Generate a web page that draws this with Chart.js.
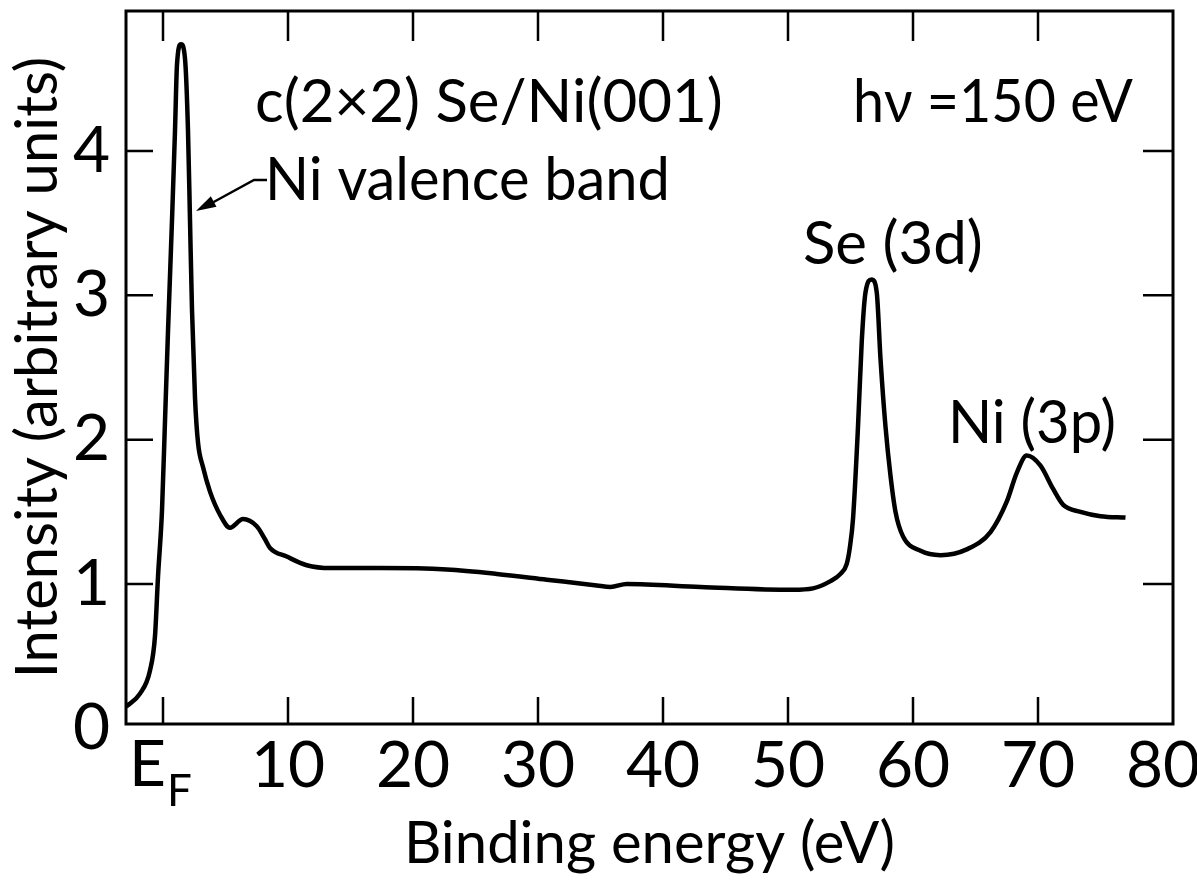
<!DOCTYPE html>
<html>
<head>
<meta charset="utf-8">
<script src="https://cdn.jsdelivr.net/npm/chart.js@4.4.1/dist/chart.umd.min.js"></script>
<style>
  html, body { margin: 0; padding: 0; background: #fff; }
  #wrap { width: 1197px; height: 882px; }
</style>
</head>
<body>
<div id="wrap"><canvas id="spectrum" width="1197" height="882"></canvas></div>
<script>
// binding energy (eV) and intensity (arb. units)
const energies = [-2.96, -1.84, -1.04, -0.64, -0.4, -0.08, 0.16, 0.4, 0.72, 0.96, 1.12, 1.44, 1.76, 2.0, 2.16, 2.32, 2.56, 2.8, 3.2, 3.76,
  4.56, 5.36, 6.4, 7.5, 8.16, 8.56, 9.9, 11.5, 13.4, 17.4, 22.7, 26.7, 30.7, 34.7, 35.8, 37.1, 43, 50.4, 52, 53.4,
  54.2, 54.7, 54.96, 55.2, 55.6, 55.9, 56.2, 56.7, 57.1, 57.4, 57.8, 58.2, 58.6, 59.2, 60.6, 62.2, 64.3, 66.2, 67.5, 68.3, 69.1,
  70.2, 71.2, 72.0, 73.4, 75.0, 77.0];
const intensities = [0.15, 0.24, 0.40, 0.64, 1.05, 1.51, 2.13, 2.75, 3.52, 4.14, 4.60, 4.74, 4.64, 4.14, 3.52, 2.90, 2.29, 1.98, 1.81, 1.64,
  1.48, 1.39, 1.45, 1.40, 1.31, 1.25, 1.19, 1.13, 1.11, 1.11, 1.10, 1.07, 1.03, 0.99, 0.98, 1.00, 0.98, 0.96, 0.97, 1.02,
  1.07, 1.14, 1.26, 1.45, 2.09, 2.68, 3.02, 3.11, 3.02, 2.56, 2.09, 1.75, 1.50, 1.33, 1.23, 1.20, 1.24, 1.36, 1.57, 1.77, 1.89,
  1.82, 1.66, 1.55, 1.50, 1.47, 1.46];

const xTicks = [0, 10, 20, 30, 40, 50, 60, 70, 80];
const yTicks = [0, 1, 2, 3, 4];
const xTitle = 'Binding energy (eV)';
const yTitle = 'Intensity (arbitrary units)';

const FONT = "Lato, 'DejaVu Sans', sans-serif";

// keep chart.js from reserving room for edge labels
const noPad = s => { s.paddingTop = 0; s.paddingBottom = 0; s.paddingLeft = 0; s.paddingRight = 0; };

// frame, inward ticks, E_F label and the annotations
const decor = {
  id: 'decor',
  afterDatasetsDraw(chart) {
    const { ctx, chartArea: a, scales: { x, y } } = chart;
    ctx.save();
    ctx.strokeStyle = '#000';
    ctx.fillStyle = '#000';
    ctx.lineWidth = 3;
    ctx.strokeRect(a.left, a.top, a.right - a.left, a.bottom - a.top);

    ctx.lineWidth = 2.5;
    ctx.beginPath();
    xTicks.forEach(v => {
      if (v >= 80) return;
      const px = x.getPixelForValue(v);
      ctx.moveTo(px, a.bottom); ctx.lineTo(px, a.bottom - 27);
      ctx.moveTo(px, a.top); ctx.lineTo(px, a.top + 30);
    });
    yTicks.forEach(v => {
      if (v === 0) return;
      const py = y.getPixelForValue(v);
      ctx.moveTo(a.left, py); ctx.lineTo(a.left + 27, py);
      ctx.moveTo(a.right, py); ctx.lineTo(a.right - 30, py);
    });
    ctx.stroke();

    // E_F under the zero tick
    const x0 = x.getPixelForValue(0);
    ctx.textBaseline = 'alphabetic';
    ctx.textAlign = 'left';
    ctx.font = `64px ${FONT}`;
    ctx.fillText('E', x0 - 34, 786);
    ctx.font = `44px ${FONT}`;
    ctx.fillText('F', x0 + 4, 806);

    // text notes
    ctx.font = `60px ${FONT}`;
    ctx.fillText('c(2×2) Se/Ni(001)', 255, 122, 490);
    ctx.fillText('hν =150 eV', 853, 122, 280);
    ctx.fillText('Ni valence band', 265, 200, 405);
    ctx.fillText('Se (3d)', 803, 264, 182);
    ctx.fillText('Ni (3p)', 948, 443, 168);

    // arrow to the valence band peak
    ctx.lineWidth = 2.5;
    ctx.beginPath();
    ctx.moveTo(267, 180);
    ctx.lineTo(254, 180);
    ctx.lineTo(210, 204);
    ctx.stroke();
    const tip = [196, 211], ang = Math.atan2(211 - 180, 196 - 254);
    ctx.beginPath();
    ctx.moveTo(tip[0], tip[1]);
    ctx.lineTo(tip[0] - 20 * Math.cos(ang) + 6 * Math.sin(ang), tip[1] - 20 * Math.sin(ang) - 6 * Math.cos(ang));
    ctx.lineTo(tip[0] - 20 * Math.cos(ang) - 6 * Math.sin(ang), tip[1] - 20 * Math.sin(ang) + 6 * Math.cos(ang));
    ctx.closePath();
    ctx.fill();
    ctx.restore();
  }
};

const ctx = document.getElementById('spectrum').getContext('2d');

new Chart(ctx, {
  type: 'line',
  data: {
    datasets: [{
      data: energies.map((e, i) => ({ x: e, y: intensities[i] })),
      borderColor: '#000',
      borderWidth: 4.5,
      pointRadius: 0,
      fill: false,
      cubicInterpolationMode: 'monotone'
    }]
  },
  plugins: [decor],
  options: {
    responsive: false,
    animation: false,
    devicePixelRatio: 1,
    layout: { padding: { top: 11, right: 24, left: 0, bottom: 0 } },
    plugins: {
      legend: { display: false },
      tooltip: { enabled: false }
    },
    scales: {
      x: {
        type: 'linear',
        min: -2.96,
        max: 80.8,
        afterBuildTicks: s => { s.ticks = xTicks.map(v => ({ value: v })); },
        afterFit: s => { s.height = 158; noPad(s); },
        grid: { display: false, drawTicks: false },
        border: { display: false },
        ticks: {
          color: '#000',
          padding: 4,
          maxRotation: 0,
          font: { family: FONT, size: 64 },
          callback: v => (v === 0 ? '' : String(v))
        },
        title: {
          display: true,
          text: xTitle,
          color: '#000',
          font: { family: FONT, size: 58, lineHeight: 1 },
          padding: { top: 0, bottom: 9 }
        }
      },
      y: {
        min: 0.03,
        max: 4.97,
        afterBuildTicks: s => { s.ticks = yTicks.map(v => ({ value: v })); },
        afterFit: s => { s.width = 126; noPad(s); },
        grid: { display: false, drawTicks: false },
        border: { display: false },
        ticks: {
          color: '#000',
          padding: 16,
          font: { family: FONT, size: 64 },
          callback: v => String(v)
        },
        title: {
          display: true,
          text: yTitle,
          color: '#000',
          font: { family: FONT, size: 58, lineHeight: 1 },
          padding: { top: 9, bottom: 0 }
        }
      }
    }
  }
});
</script>
</body>
</html>
